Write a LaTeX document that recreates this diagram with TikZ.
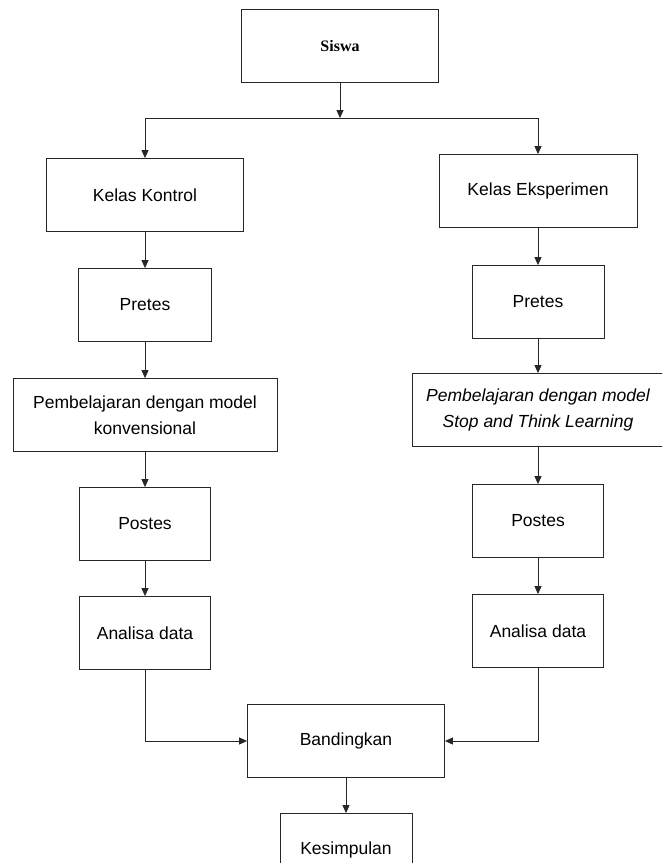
\documentclass[tikz,border=0pt]{standalone}
\usepackage{fontspec}
\setmainfont{Liberation Sans}
\newfontfamily\judulfont{Liberation Serif}
\usetikzlibrary{arrows.meta}

\begin{document}
\begin{tikzpicture}[x=1pt,y=-1pt,>={Triangle[length=8pt,width=7pt]},
    garis/.style={draw=black!85,line width=0.8pt},
    kotak/.style={garis,rectangle,minimum width=#1,minimum height=73pt,inner sep=0pt,align=center,
                  font=\fontsize{17.5}{26}\selectfont}]
  \path[use as bounding box,clip] (0,0) rectangle (662,863);
  % kotak-kotak
  \node[kotak=197pt,font=\judulfont\bfseries\fontsize{16}{20}\selectfont] (siswa) at (340,46) {Siswa};
  \node[kotak=197pt] (kontrol) at (145,195) {Kelas Kontrol};
  \node[kotak=198pt] (eksperimen) at (538,191) {Kelas Eksperimen};
  \node[kotak=133pt] (pretesK) at (145,305) {Pretes};
  \node[kotak=132pt] (pretesE) at (538,302) {Pretes};
  \node[kotak=264pt] (ajarK) at (145,415) {Pembelajaran dengan model\\konvensional};
  \node[kotak=252pt,font=\itshape\fontsize{17.5}{26}\selectfont] (ajarE) at (538,410) {Pembelajaran dengan model\\Stop and Think Learning};
  \node[kotak=131pt] (postesK) at (145,524) {Postes};
  \node[kotak=131pt] (postesE) at (538,521) {Postes};
  \node[kotak=131pt] (analisaK) at (145,633) {Analisa data};
  \node[kotak=131pt] (analisaE) at (538,631) {Analisa data};
  \node[kotak=197pt] (banding) at (346,741) {Bandingkan};
  \node[kotak=132pt] (simpulan) at (346,850) {Kesimpulan};
  % percabangan
  \coordinate (cabang) at (340,118);
  \coordinate (cabangK) at (145,118);
  \coordinate (cabangE) at (538,118);
  \draw[garis,->] (siswa) -- (cabang);
  \draw[garis] (cabangK) -- (cabangE);
  \draw[garis,->] (cabangK) -- (kontrol);
  \draw[garis,->] (cabangE) -- (eksperimen);
  % alur kiri
  \draw[garis,->] (kontrol) -- (pretesK);
  \draw[garis,->] (pretesK) -- (ajarK);
  \draw[garis,->] (ajarK) -- (postesK);
  \draw[garis,->] (postesK) -- (analisaK);
  \draw[garis,->] (analisaK.south) |- (banding.west);
  % alur kanan
  \draw[garis,->] (eksperimen) -- (pretesE);
  \draw[garis,->] (pretesE) -- (ajarE);
  \draw[garis,->] (ajarE) -- (postesE);
  \draw[garis,->] (postesE) -- (analisaE);
  \draw[garis,->] (analisaE.south) |- (banding.east);
  \draw[garis,->] (banding) -- (simpulan);
\end{tikzpicture}
\end{document}
